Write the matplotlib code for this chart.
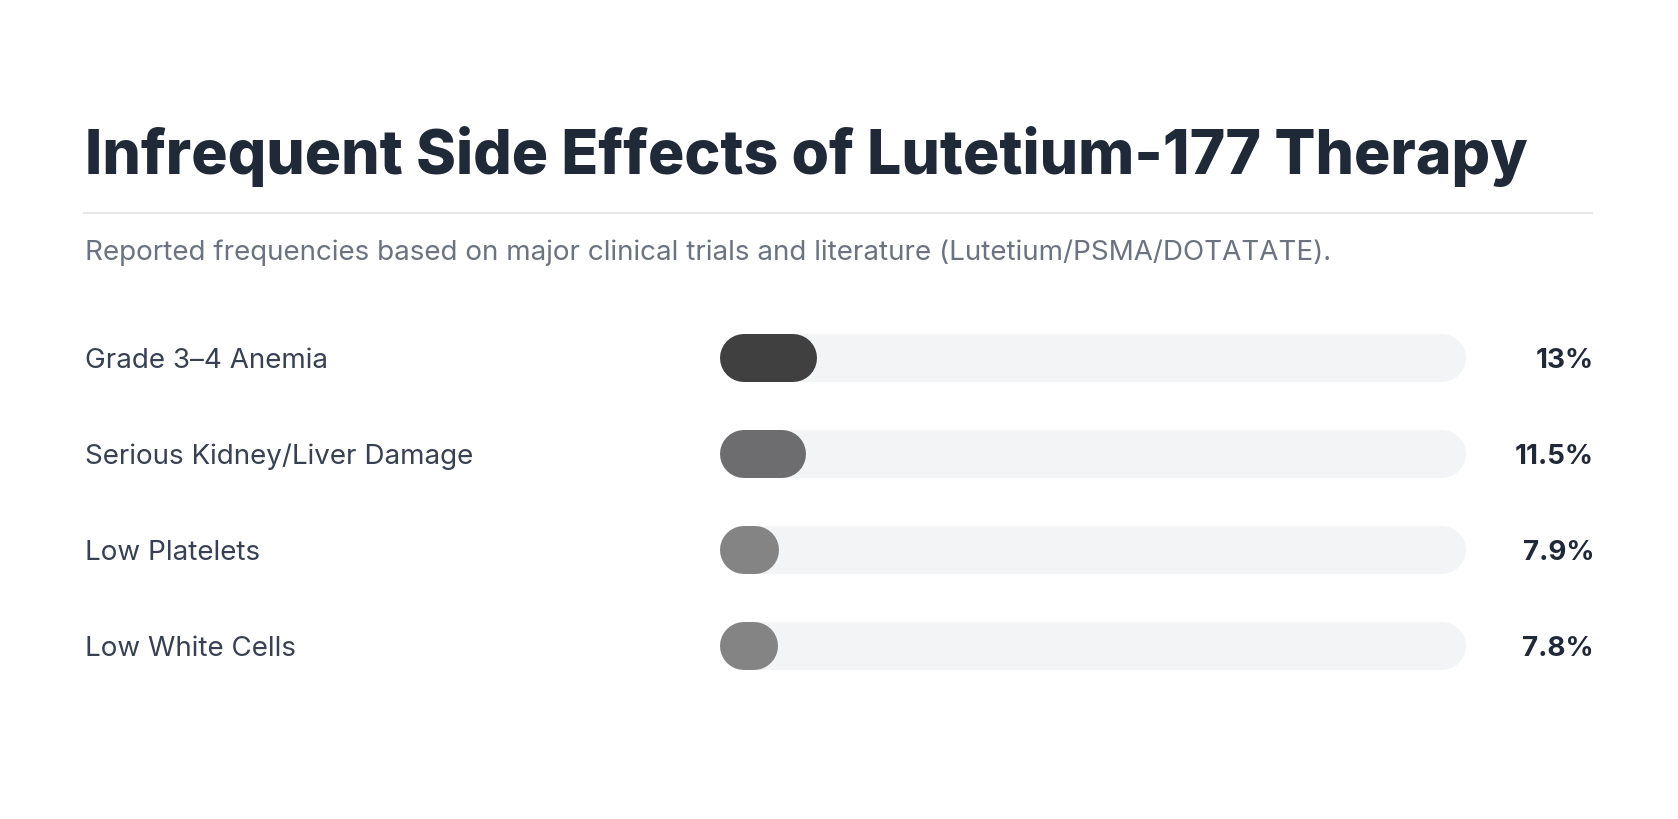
import matplotlib
matplotlib.use('Agg')
import matplotlib.pyplot as plt
from matplotlib import transforms
from matplotlib.lines import Line2D

# data
effects = ['Grade 3\u20134 Anemia', 'Serious Kidney/Liver Damage', 'Low Platelets', 'Low White Cells']
percent = [13, 11.5, 7.9, 7.8]
value_labels = ['13%', '11.5%', '7.9%', '7.8%']
bar_colors = ['#404040', '#6d6d6f', '#848484', '#848484']

title = 'Infrequent Side Effects of Lutetium-177 Therapy'
subtitle = 'Reported frequencies based on major clinical trials and literature (Lutetium/PSMA/DOTATATE).'

W, H = 1678, 819
DPI = 100
fig = plt.figure(figsize=(W / DPI, H / DPI), dpi=DPI)
fig.patch.set_facecolor('white')
renderer = fig.canvas.get_renderer()


def px_x(x):
    return x / W


def px_y(y):
    return 1 - y / H


def fit_text(t, width_px):
    # scale the font size so the text spans the wanted width
    bb = t.get_window_extent(renderer=renderer)
    t.set_fontsize(t.get_fontsize() * width_px / bb.width)


left = 85
t = fig.text(px_x(left), px_y(174), title, fontsize=46, fontweight='heavy',
             family=['Inter', 'DejaVu Sans'], color='#1f2937', va='baseline', ha='left')
fit_text(t, 1528 - left)

fig.add_artist(Line2D([px_x(84), px_x(1592)], [px_y(213), px_y(213)],
                      color='#e5e7eb', lw=1.5, transform=fig.transFigure))

s = fig.text(px_x(left), px_y(260), subtitle, fontsize=19, family=['Inter', 'DejaVu Sans'],
             color='#6b7280', va='baseline', ha='left')
fit_text(s, 1330 - left)

# bar area: tracks from x=720 to 1466 px, rows 96 px apart
x0, x1 = 720, 1466
top, row_h = 310, 96
n = len(effects)
ax = fig.add_axes([px_x(x0), px_y(top + row_h * n), (x1 - x0) / W, row_h * n / H])
ax.set_xlim(0, 100)
ax.set_ylim(n - 0.5, -0.5)
ax.axis('off')

bar_h_px = 48
lw_pt = bar_h_px * 72 / DPI
cap = (bar_h_px / 2) / (x1 - x0) * 100  # round cap length in data units

for i, (v, c) in enumerate(zip(percent, bar_colors)):
    ax.plot([cap, 100 - cap], [i, i], color='#f3f4f6', lw=lw_pt,
            solid_capstyle='round', zorder=1)
    ax.plot([cap, v - cap], [i, i], color=c, lw=lw_pt,
            solid_capstyle='round', zorder=2)

trans = transforms.blended_transform_factory(fig.transFigure, ax.transData)
off = 10 / row_h  # baseline sits a bit under the row centre
for i, (lab, val) in enumerate(zip(effects, value_labels)):
    ax.text(px_x(left), i + off, lab, transform=trans, fontsize=20,
            family=['Inter', 'DejaVu Sans'], color='#374151', va='baseline', ha='left')
    ax.text(px_x(1594), i + off, val, transform=trans, fontsize=20, fontweight='bold',
            family=['Inter', 'DejaVu Sans'], color='#1f2937', va='baseline', ha='right')

fig.savefig('out.png', dpi=DPI, facecolor='white')
